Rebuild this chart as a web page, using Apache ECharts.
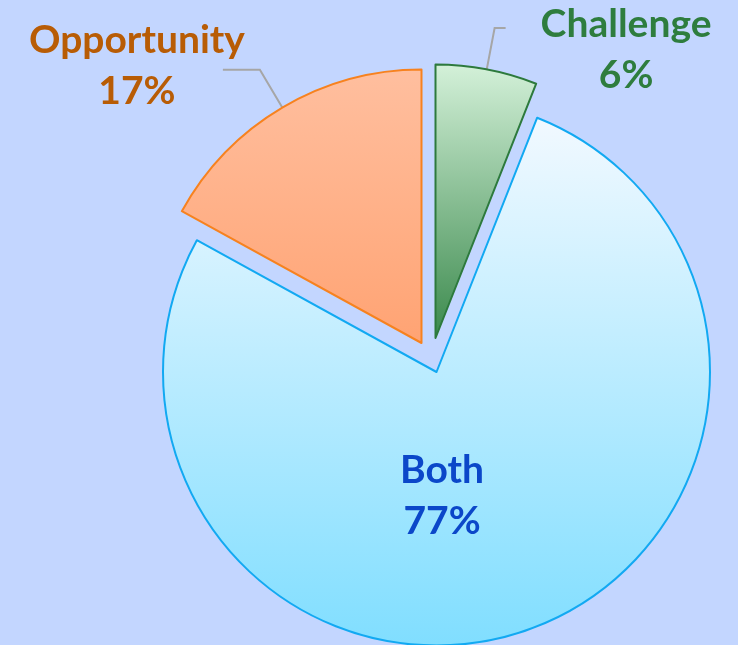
<!DOCTYPE html>
<html>
<head>
<meta charset="utf-8">
<script src="https://cdn.jsdelivr.net/npm/echarts@6/dist/echarts.min.js"></script>
<style>
html,body{margin:0;padding:0;background:#c3d6ff;}
#chart{width:738px;height:645px;}
</style>
</head>
<body>
<div id="chart"></div>
<script>
// ---- data ----
const categories = ['Challenge', 'Both', 'Opportunity'];
const percentValues = [6, 77, 17];

// ---- styles / layout (one pie layer per slice so each exploded slice can be placed) ----
const FONT = 'Lato';
const RADIUS = 273.5;
const sliceStyles = {
  Challenge: {
    top: '#d4f1d9', bottom: '#3a894c', border: '#2d7a3d', text: '#2e7d3e',
    center: [435.5, 338],
    label: { position: 'outside', distanceToLabelLine: 35, padding: [44, 0, 0, 0] },
    labelLine: { show: true, length: 42, length2: 11 }
  },
  Both: {
    top: '#f2f9ff', bottom: '#80deff', border: '#12a9f2', text: '#0b47c9',
    center: [436.5, 372],
    label: { position: 'inside' },
    labelLine: { show: false },
    labelAt: [442, 496]
  },
  Opportunity: {
    top: '#ffbf9f', bottom: '#ffa373', border: '#f7821f', text: '#b85c05',
    center: [421.5, 343],
    label: { position: 'outside', distanceToLabelLine: -22, padding: [0, 0, 8, 0] },
    labelLine: { show: true, length: 44, length2: 37 }
  }
};

function buildSeries(visibleName) {
  const s = sliceStyles[visibleName];
  const data = categories.map((name, i) => {
    const visible = name === visibleName;
    return {
      name: name,
      value: percentValues[i],
      itemStyle: visible ? {
        color: new echarts.graphic.LinearGradient(0, 0, 0, 1, [
          { offset: 0, color: s.top },
          { offset: 1, color: s.bottom }
        ]),
        borderColor: s.border,
        borderWidth: 2
      } : { color: 'rgba(0,0,0,0)', borderWidth: 0 },
      label: { show: visible },
      labelLine: { show: visible && s.labelLine.show }
    };
  });
  const series = {
    type: 'pie',
    name: visibleName,
    center: s.center,
    radius: [0, RADIUS],
    startAngle: 90,
    clockwise: true,
    avoidLabelOverlap: false,
    silent: true,
    data: data,
    label: Object.assign({
      formatter: '{n|{b}}\n{p|{d}%}',
      fontFamily: FONT,
      fontWeight: 'bold',
      fontSize: 39,
      color: s.text,
      rich: {
        n: { align: 'center', fontFamily: FONT, fontWeight: 'bold', fontSize: 39, lineHeight: 51, color: s.text },
        p: { align: 'center', fontFamily: FONT, fontWeight: 'bold', fontSize: 39, lineHeight: 51, color: s.text }
      }
    }, s.label),
    labelLine: {
      length: s.labelLine.length || 0,
      length2: s.labelLine.length2 || 0,
      lineStyle: { color: '#a6a6a6', width: 2 }
    },
    emphasis: { disabled: true, scale: false }
  };
  if (s.labelAt) {
    series.labelLayout = function () {
      return { x: s.labelAt[0], y: s.labelAt[1], align: 'center', verticalAlign: 'middle' };
    };
  }
  return series;
}

const chart = echarts.init(document.getElementById('chart'), null, { renderer: 'canvas' });
chart.setOption({
  backgroundColor: '#c3d6ff',
  animation: false,
  series: [buildSeries('Both'), buildSeries('Opportunity'), buildSeries('Challenge')]
});
</script>
</body>
</html>
